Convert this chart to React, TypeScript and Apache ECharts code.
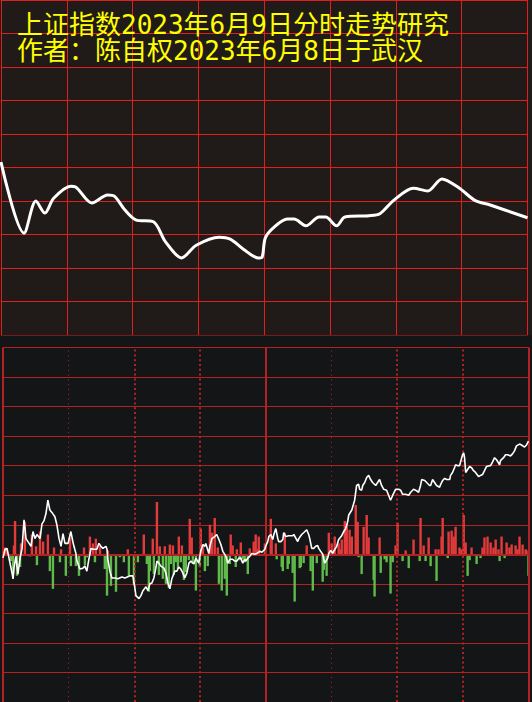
import React, { useEffect, useRef } from "react";
import * as echarts from "echarts";

// ---------- texts ----------
const TITLE_LINES = ["上证指数2023年6月9日分时走势研究", "作者：陈自权2023年6月8日于武汉"];

// ---------- top panel: forecast curve (minutes after open, index level) ----------
const forecastMinutes = [
  0, 10.5, 15.9, 20.0, 24.0, 31.8, 34.0, 41.4, 48.6, 51.8, 56.4, 61.4, 69.5, 75.0, 82.3, 89.0,
  99.5, 104.5, 110.5, 117.3, 119.0, 120.5, 124.5, 130.5, 133.6, 139.0, 145.0, 148.0, 153.0,
  156.8, 167.7, 172.7, 179.0, 188.0, 194.5, 201.0, 209.0, 216.0, 223.0, 240.0,
];
const forecastLevels = [
  3215.8, 3205.2, 3210.0, 3208.2, 3210.4, 3212.2, 3212.1, 3209.7, 3210.9, 3210.7, 3208.7, 3207.2,
  3206.9, 3203.9, 3201.5, 3203.4, 3204.6, 3204.3, 3202.8, 3201.5, 3201.6, 3204.5, 3206.1, 3207.3,
  3207.3, 3206.3, 3207.6, 3207.6, 3206.3, 3207.6, 3207.8, 3208.1, 3210.1, 3211.9, 3211.5, 3213.3,
  3211.9, 3210.1, 3209.4, 3207.5,
];
const TOP_LEVEL_MIN = 3190;
const TOP_LEVEL_MAX = 3240;
const TOP_LEVEL_STEP = 5;

// ---------- bottom panel: intraday line (minutes, value) ----------
const actualMinutes = [
  0, 0.9, 1.8, 2.3, 3.2, 4.1, 4.6, 5.0, 5.9, 6.8, 7.8, 8.7, 9.6, 10.5, 11.4, 12.8, 13.7, 14.6, 15.5,
  16.9, 17.8, 18.7, 19.6, 20.5, 21.4, 22.8, 23.7, 24.6, 25.6, 26.5, 27.4, 28.3, 29.7, 31.0, 31.9,
  32.4, 33.3, 33.8, 35.1, 36.5, 37.4, 38.3, 39.2, 40.2, 41.1, 42.9, 43.8, 44.7, 45.6, 47.0, 47.5,
  47.9, 48.8, 49.7, 51.1, 52.5, 54.3, 55.7, 58.0, 59.3, 60.2, 60.7, 62.1, 63.0, 63.9, 65.3, 66.2,
  67.1, 68.0, 68.9, 69.8, 70.3, 71.2, 72.1, 73.5, 74.4, 75.3, 76.2, 77.1, 78.5, 79.4, 80.3, 81.2,
  82.1, 83.0, 84.0, 84.9, 85.8, 87.2, 88.1, 89.4, 90.3, 91.3, 92.2, 92.6, 94.0, 94.5, 95.4, 96.7,
  97.6, 98.6, 99.5, 100.4, 101.8, 102.7, 103.6, 104.9, 105.9, 106.8, 107.7, 108.6, 109.5, 110.4,
  110.9, 111.8, 112.7, 113.6, 115.0, 115.9, 117.3, 118.2, 119.6, 120.0, 120.9, 121.4, 122.3, 123.2,
  123.7, 124.6, 125.5, 125.9, 126.9, 127.8, 128.2, 129.1, 130.5, 132.3, 132.8, 134.6, 135.1, 136.4,
  137.3, 138.7, 139.6, 140.1, 141.0, 141.9, 142.8, 143.7, 144.2, 145.1, 146.0, 146.9, 148.3, 148.8,
  149.7, 150.6, 151.0, 152.4, 153.3, 154.7, 155.6, 156.5, 157.4, 157.9, 159.3, 159.7, 160.6, 161.5,
  162.4, 162.9, 163.8, 164.3, 165.2, 166.1, 167.0, 167.9, 168.8, 170.2, 171.1, 172.0, 172.9, 173.9,
  175.2, 176.1, 177.0, 178.0, 179.3, 180.7, 181.6, 182.5, 183.9, 185.3, 186.2, 187.5, 188.4, 189.8,
  190.7, 191.2, 192.6, 193.5, 194.8, 195.3, 196.2, 197.1, 198.0, 199.4, 199.9, 200.8, 201.7, 202.6,
  204.0, 204.4, 205.3, 206.2, 206.7, 207.6, 208.5, 209.0, 209.9, 210.4, 210.8, 211.3, 212.2, 213.1,
  214.0, 214.9, 215.8, 217.2, 218.1, 219.0, 219.9, 220.8, 222.2, 222.7, 223.6, 224.5, 225.4, 226.8,
  227.2, 228.6, 229.5, 230.4, 231.8, 232.7, 233.6, 234.5, 235.9, 236.8, 238.2, 239.1, 240,
];
const actualValues = [
  -1.2, 1.7, 2, 0.3, -3, -6.3, -8.3, -4.7, -0.7, -6.7, -1.3, 2, 11.7, 5.3, 4.3, 2.7, 7.7, 5.3, 6.7,
  5.3, 10.3, 11.3, 13.7, 18.3, 15, 13.7, 12.7, 10, 5.3, 2.7, 7, 3.7, 3.7, 7.7, 4.3,
  2.7, 0.3, -2.3, -5, -4.7, -4, -5.7, -1.7, 2, 1.7, 1.7, 3.7, 2.7, 2, 2.7, 1.7,
  -1.7, -5.7, -8, -8, -8.3, -7.7, -8, -7.3, -7.3, -11.3, -14, -15, -14, -12.3, -11, -12.3,
  -10, -9.7, -8, -4.7, -2.3, -3, -4, -4.7, -6.3, -9.7, -11.7, -8.3, -5.7, -5.7, -4.3, -5,
  -6.3, -8, -6.3, -3, -2.3, -3.3, -1.3, -3, 1, 3.3, 2.7, 3.7, 0.3, 2.7, 5.3, 6,
  6.7, 5, 3.3, 1, -0.7, -3, -1.7, -1.7, -2.3, -2.3, -1.3, -1.3, -3, -1.7,
  -2.3, -1.3, -0.7, 0.3, 0, 0.3, 1, 0.7, 1.7, 2.7, 4.3, 6, 6.7, 5,
  6.7, 8.7, 5.3, 4.3, 4.3, 5, 7.3, 6, 6.3, 6.3, 6.7, 4.3, 5.3, 6.7,
  7.3, 8.3, 6.7, 5.3, 2, 2, 2.7, 3, 2, 1, 0, -3, -1.3, 0.3,
  1.3, 0.3, 1, 2.7, 5, 6.3, 7.7, 8.7, 11, 13.3, 15, 16, 18.3, 23.3,
  23.7, 22, 21.7, 23.3, 24.3, 26, 26.7, 25.3, 24.3, 23.3, 24.3, 25.3, 23.3, 22,
  21.7, 20, 18.3, 20, 22, 22, 21.7, 20.3, 20.3, 20, 21, 22, 21.7, 21,
  23.3, 25.3, 25, 24.3, 23.3, 23.3, 25.3, 24.3, 23.3, 22.7, 23.7, 25, 25.7, 25.3,
  25.3, 26.7, 27.7, 29.3, 30.3, 30, 30, 31.3, 33.7, 34.3, 32.7, 27.7, 28.7, 29.7,
  29.3, 28.3, 27.7, 26.3, 26.7, 27, 28.3, 29.7, 30, 30, 31.3, 32.7, 32, 30.3,
  31.7, 32.7, 33.7, 33.7, 33.3, 34, 35, 36.7, 37.3, 37, 36.3, 37, 38.3,
];

// ---------- bottom panel: red / green bars (minutes, value) ----------
const barMinutes = [
  0.9, 1.8, 3.7, 4.6, 5.0, 5.5, 6.4, 7.8, 8.2, 10.0, 12.3, 13.2, 15.1, 15.5, 16.9, 18.3, 20.5, 21.4,
  22.8, 23.3, 26.0, 26.5, 28.7, 30.6, 31.0, 33.3, 34.7, 37.0, 37.4, 38.3, 39.7, 41.1, 42.0, 42.4,
  44.3, 46.5, 47.5, 47.9, 49.3, 51.6, 53.4, 55.2, 57.0, 57.5, 59.8, 61.6, 64.3, 65.7, 66.6, 67.1,
  68.4, 68.9, 70.3, 71.2, 71.6, 73.0, 73.9, 74.4, 75.7, 76.2, 76.7, 77.6, 78.0, 78.9, 79.9, 80.3,
  81.2, 81.7, 82.6, 83.5, 84.9, 85.3, 86.2, 86.7, 88.1, 89.9, 90.3, 91.3, 92.2, 93.5, 94.5, 95.4,
  96.7, 98.1, 98.6, 99.9, 101.3, 102.2, 103.6, 104.0, 104.9, 106.3, 106.8, 108.1, 108.6, 109.5,
  110.4, 111.8, 112.7, 114.5, 115.4, 115.9, 116.8, 119.6, 122.3, 122.7, 124.6, 125.0, 127.3, 127.8,
  128.7, 130.0, 130.5, 132.3, 133.2, 135.5, 136.0, 137.3, 138.7, 140.5, 141.5, 143.3, 146.0, 146.5,
  147.8, 148.8, 150.1, 151.5, 153.3, 154.2, 154.7, 156.1, 157.0, 158.3, 159.3, 161.1, 162.0, 162.4,
  163.8, 164.7, 166.1, 167.0, 169.3, 169.7, 172.0, 172.5, 174.3, 175.2, 177.0, 178.0, 179.3, 180.2,
  182.5, 183.9, 185.3, 187.5, 190.3, 190.7, 192.1, 193.0, 194.4, 195.3, 197.6, 198.0, 198.9, 200.3,
  200.8, 203.1, 203.5, 204.9, 205.8, 206.7, 208.5, 209.4, 210.4, 211.3, 212.2, 213.1, 214.0, 216.3,
  218.1, 219.0, 219.9, 221.3, 222.7, 224.0, 225.0, 226.3, 226.8, 227.7, 229.1, 230.0, 231.3, 232.3,
  234.1, 235.0, 235.9, 237.3, 238.7, 239.1, 240.0,
];
const barValues = [
  2.3, 2.0, -2.3, -6.7, 3.0, 11.3, -7.3, -4.3, 3.7, 11.0, -0.7, 6.7, 2.7, -3.7, 7.7, 4.3, 6.7, -5.7,
  -11.7, 2.3, -2.7, 1.7, -7.3, 5.7, -4.0, -4.0, -7.3, 2.3, -3.7, -1.0, 6.0, 3.7, -2.7, 5.3,
  2.7, -5.0, -14.0, 1.3, -10.7, -12.7, -1.0, -2.7, 1.7, -7.3, -10.3, -2.7, 6.7, -3.3, -12.7, -5.7,
  5.3, -6.7, 17.7, -7.0, 2.7, -8.3, 2.7, -10.0, -11.3, 3.3, -3.3, 3.0, -7.0, -2.7, -5.0, 6.0,
  -2.7, 3.0, -8.7, -6.0, -2.0, 12.0, 5.7, -3.3, -12.3, -4.3, 8.7, 2.7, -5.7, -4.0, 10.0, 7.3,
  12.3, 2.3, -10.0, -12.3, -8.3, -14.0, -3.3, 6.7, 3.0, -4.3, 1.7, -2.0, 4.0, -1.7,
  -2.7, -6.7, 2.0, 4.3, 6.7, 1.7, 6.0, 3.7, 12.0, 5.3, 3.7, -1.7, -4.3, -5.7,
  7.3, -5.0, -3.3, -6.3, -16.0, -4.7, -4.3, -3.0, 3.0, -5.7, -12.3, -3.0, -9.3, -5.3,
  -7.3, 7.3, 3.7, 6.0, 3.7, 1.7, 5.0, 11.3, 10.3, 8.3, 6.0, 16.7, 11.0, -1.0,
  -6.7, 9.3, 13.3, 5.7, -8.7, -14.3, 5.7, -6.3, -1.7, -2.7, -13.3, -2.7, 3.0, 10.7,
  -2.3, 1.3, -4.7, 5.0, -2.3, 12.3, 3.0, -2.3, 5.7, -4.0, 1.7, -9.0, 1.7, 6.0,
  12.3, -1.3, 7.7, 8.0, 6.0, 9.3, 2.3, 1.7, 13.3, 4.0, -7.3, -2.0, 2.3, -3.3,
  -1.3, 2.3, 5.7, 6.0, 4.0, 2.3, 5.0, 1.7, -2.3, 6.0, -1.3, 4.0, 2.3, 3.3,
  3.0, 1.7, 6.0, 3.3, 1.7, 1.3, -7.3,
];
const BOTTOM_MIN = -50;
const BOTTOM_MAX = 70;
const BOTTOM_STEP = 10;

const SESSION_MINUTES = 240;
const MINUTE_STEP = 30;
const THIN_DOTTED_MINUTES = [30, 150];
const THICK_DOTTED_MINUTES = [60, 90, 180, 210];
const SOLID_MINUTES = [0, 120, 240];

// ---------- colours ----------
const TOP_BG = "#201a18";
const BOTTOM_BG = "#141517";
const TOP_GRID = "#e11f1f";
const BOTTOM_GRID = "#b22222";
const UP = "#e33b3b";
const DOWN = "#5fba4a";
const TITLE = "#ffff00";
const TITLE_FONT = '"DejaVu Sans Mono", "Noto Sans CJK SC", "Noto Sans CJK TC", sans-serif';

export default function App() {
  const ref = useRef<HTMLDivElement>(null);

  useEffect(() => {
    document.body.style.margin = "0";
    if (!ref.current) return;
    const chart = echarts.init(ref.current, undefined, { renderer: "svg" });

    const hiddenAxis = {
      axisLine: { show: false },
      axisTick: { show: false },
      axisLabel: { show: false },
    };

    const vLines: any[] = [];
    SOLID_MINUTES.forEach((m) =>
      vLines.push({ xAxis: m, lineStyle: { type: "solid", width: 2, color: BOTTOM_GRID } })
    );
    THIN_DOTTED_MINUTES.forEach((m) =>
      vLines.push({ xAxis: m, lineStyle: { type: [1, 3.8], width: 1, color: BOTTOM_GRID } })
    );
    THICK_DOTTED_MINUTES.forEach((m) =>
      vLines.push({ xAxis: m, lineStyle: { type: [2, 2.8], width: 2, color: BOTTOM_GRID } })
    );
    vLines.push({ yAxis: 0, lineStyle: { type: "solid", width: 2, color: BOTTOM_GRID } });

    const titleText = (text: string, y: number) => ({
      type: "text",
      z: 20,
      x: 17,
      y,
      style: {
        text,
        fill: TITLE,
        fontSize: 26,
        lineHeight: 24,
        fontFamily: TITLE_FONT,
        verticalAlign: "middle",
        align: "left",
      },
    });

    chart.setOption({
      animation: false,
      backgroundColor: BOTTOM_BG,
      graphic: [
        {
          type: "rect",
          z: -10,
          silent: true,
          shape: { x: 0, y: 0, width: 532, height: 335.5 },
          style: { fill: TOP_BG },
        },
        {
          type: "rect",
          z: 10,
          silent: true,
          shape: { x: 0, y: 335.5, width: 532, height: 11.5 },
          style: { fill: BOTTOM_BG },
        },
        titleText(TITLE_LINES[0], 24.5),
        titleText(TITLE_LINES[1], 50.5),
      ],
      grid: [
        { left: 1, top: 0, width: 526.5, height: 335, show: false },
        { left: 3, top: 347.5, width: 525.5, height: 360, show: false },
      ],
      xAxis: [
        {
          gridIndex: 0,
          type: "value",
          min: 0,
          max: SESSION_MINUTES,
          interval: MINUTE_STEP,
          ...hiddenAxis,
          splitLine: { show: true, lineStyle: { color: TOP_GRID, width: 1 } },
        },
        {
          gridIndex: 1,
          type: "value",
          min: 0,
          max: SESSION_MINUTES,
          interval: MINUTE_STEP,
          ...hiddenAxis,
          splitLine: { show: false },
        },
      ],
      yAxis: [
        {
          gridIndex: 0,
          type: "value",
          min: TOP_LEVEL_MIN,
          max: TOP_LEVEL_MAX,
          interval: TOP_LEVEL_STEP,
          ...hiddenAxis,
          splitLine: { show: true, lineStyle: { color: TOP_GRID, width: 1 } },
        },
        {
          gridIndex: 1,
          type: "value",
          min: BOTTOM_MIN,
          max: BOTTOM_MAX,
          interval: BOTTOM_STEP,
          ...hiddenAxis,
          splitLine: { show: true, lineStyle: { color: BOTTOM_GRID, width: 1 } },
        },
      ],
      series: [
        {
          type: "line",
          xAxisIndex: 0,
          yAxisIndex: 0,
          data: forecastMinutes.map((m, i) => [m, forecastLevels[i]]),
          showSymbol: false,
          smooth: 0.3,
          silent: true,
          z: 5,
          lineStyle: { color: "#ffffff", width: 3 },
        },
        {
          type: "bar",
          xAxisIndex: 1,
          yAxisIndex: 1,
          barWidth: 2.4,
          silent: true,
          z: 3,
          data: barMinutes.map((m, i) => ({
            value: [m, barValues[i]],
            itemStyle: { color: barValues[i] >= 0 ? UP : DOWN },
          })),
          markLine: {
            silent: true,
            symbol: ["none", "none"],
            label: { show: false },
            data: vLines,
          },
        },
        {
          type: "line",
          xAxisIndex: 1,
          yAxisIndex: 1,
          data: actualMinutes.map((m, i) => [m, actualValues[i]]),
          showSymbol: false,
          silent: true,
          z: 6,
          lineStyle: { color: "#ffffff", width: 1.6 },
        },
      ],
    });

    return () => {
      chart.dispose();
    };
  }, []);

  return (
    <div
      ref={ref}
      style={{ position: "fixed", left: 0, top: 0, width: 532, height: 702 }}
    />
  );
}
